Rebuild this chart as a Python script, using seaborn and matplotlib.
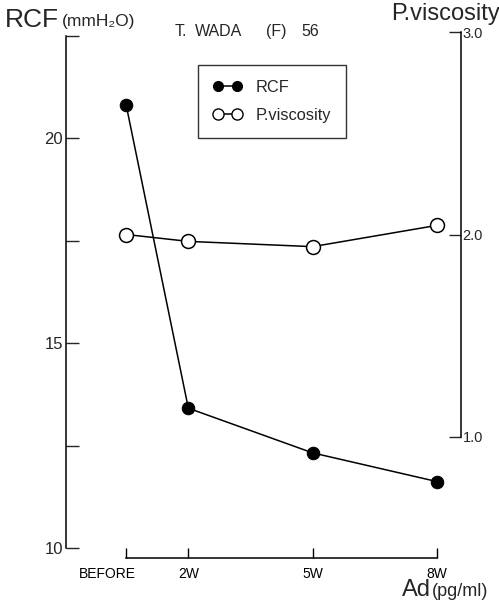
import numpy as np
import pandas as pd
import matplotlib
matplotlib.use("Agg")
import matplotlib.pyplot as plt
import matplotlib.transforms as mtransforms
from matplotlib.lines import Line2D
import seaborn as sns

# data
periods = ["BEFORE", "2W", "5W", "8W"]
weeks = [0.5, 2, 5, 8]
rcf = [20.8, 13.41, 12.32, 11.62]
viscosity = [2.0, 1.966, 1.94, 2.045]

sns.set_style("white")
plt.rcParams['font.family'] = ['Liberation Sans', 'DejaVu Sans']

df = pd.DataFrame({'period': periods, 'week': weeks, 'RCF': rcf, 'visc': viscosity})

fig = plt.figure(figsize=(4.99, 6.03), dpi=100)
ax = fig.add_axes([66/499, 55/603, 395/499, 516/603])
ax2 = ax.twinx()

sns.lineplot(data=df, x='week', y='RCF', ax=ax, color='black', lw=1.1,
             marker='o', markersize=9, markerfacecolor='black', markeredgecolor='black')
sns.lineplot(data=df, x='week', y='visc', ax=ax2, color='black', lw=1.1,
             marker='o', markersize=10, markerfacecolor='white', markeredgecolor='black',
             markeredgewidth=1.1)

# x axis (detached, only from BEFORE to 8W)
ax.set_xlim(0.5 - 60/41.3, 8 + 24/41.3)
ax.set_xticks(weeks)
ax.set_xticklabels(periods, fontsize=9.5)
ax.spines['bottom'].set_position(('outward', 7))
ax.spines['bottom'].set_bounds(0.5, 8)
ax.tick_params(axis='x', direction='in', length=7, width=1, pad=7, colors='black', bottom=True)
lbl = ax.get_xticklabels()[0]
lbl.set_transform(lbl.get_transform() + mtransforms.ScaledTranslation(-0.19, 0, fig.dpi_scale_trans))

# left axis RCF
ax.set_ylim(10, 10 + 516/41)
ax.set_yticks([10, 15, 20])
ax.set_yticks([12.5, 17.5, 22.5], minor=True)
ax.spines['left'].set_bounds(10, 22.5)
ax.tick_params(axis='y', which='both', direction='in', length=9, width=1, pad=2, labelsize=12, left=True)
ax.set_xlabel('')
ax.set_ylabel('')

# right axis P.viscosity
ax2.set_ylim(1.0 - 111/202.5, 3.0)
ax2.set_yticks([1.0, 2.0, 3.0])
ax2.set_yticklabels(['1.0', '2.0', '3.0'], fontsize=10.5)
ax2.spines['right'].set_bounds(1.0, 3.0)
ax2.tick_params(axis='y', direction='in', length=9, width=1, pad=1, right=True)
ax2.set_ylabel('')

for a in (ax, ax2):
    a.spines['top'].set_visible(False)
    for s in a.spines.values():
        s.set_color('black')
        s.set_linewidth(1.1)
ax.spines['right'].set_visible(False)
ax2.spines['left'].set_visible(False)
ax2.spines['bottom'].set_visible(False)

# texts
fig.text(5/499, 1 - 27/603, 'RCF', fontsize=19, va='baseline')
fig.text(62/499, 1 - 26/603, '(mmH\u2082O)', fontsize=12.5, va='baseline')
for txt, xp in [('T.', 175), ('WADA', 195), ('(F)', 266), ('56', 301)]:
    fig.text(xp/499, 1 - 36/603, txt, fontsize=11.5, va='baseline')
fig.text(391/499, 1 - 20/603, 'P.viscosity', fontsize=17, va='baseline')
fig.text(402/499, 1 - 596/603, 'Ad', fontsize=17, va='baseline')
fig.text(432/499, 1 - 596/603, '(pg/ml)', fontsize=13, va='baseline')

handles = [
    Line2D([], [], color='black', lw=1.1, marker='o', markersize=7,
           markerfacecolor='black', markeredgecolor='black'),
    Line2D([], [], color='black', lw=1.1, marker='o', markersize=8,
           markerfacecolor='white', markeredgecolor='black'),
]
leg = ax.legend(handles, ['RCF', 'P.viscosity'], loc='upper left',
                bbox_to_anchor=(0.334, 0.936), borderaxespad=0, numpoints=2,
                handlelength=1.8, fontsize=11.8, fancybox=False, frameon=True,
                borderpad=0.9, labelspacing=0.8, handletextpad=0.8)
leg.get_frame().set_edgecolor('black')
leg.get_frame().set_linewidth(1.0)

fig.savefig('out.png', dpi=100)
